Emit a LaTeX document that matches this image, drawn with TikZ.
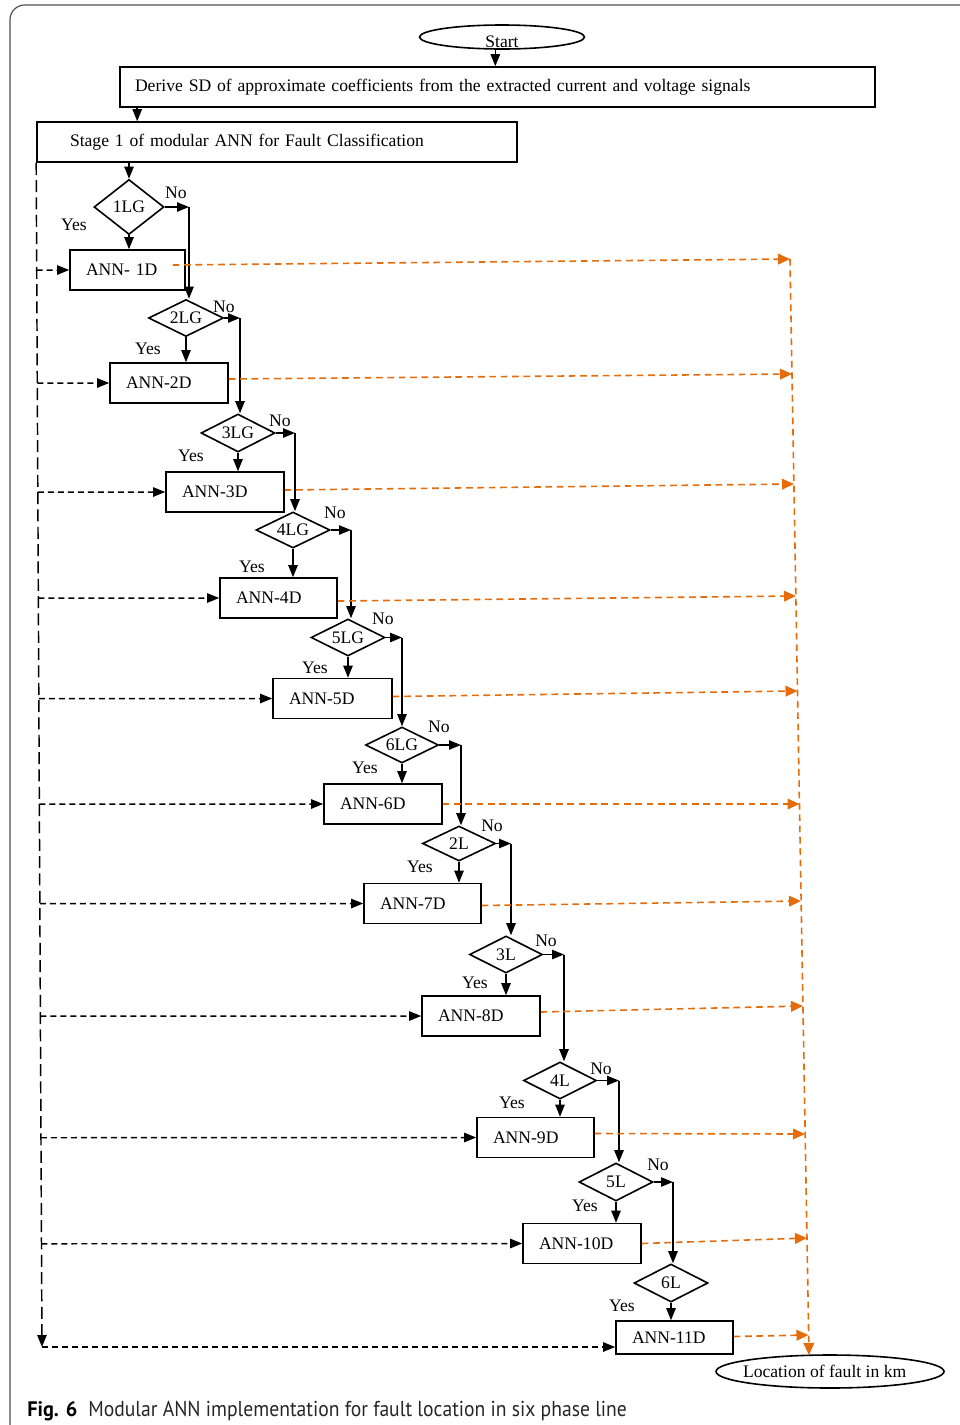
\documentclass[tikz,border=0pt]{standalone}
\usepackage{fontspec}
\usepackage{graphicx}
\setmainfont{Liberation Serif}
\newfontfamily\capfont{PT Sans}
\usetikzlibrary{arrows.meta,calc,shapes.geometric}
\definecolor{orng}{RGB}{228,108,10}
\definecolor{framegray}{RGB}{80,80,80}
\def\U{0.75pt}
\begin{document}
\begin{tikzpicture}[x=0.75pt,y=-0.75pt,
  every node/.style={font=\fontsize{13.2}{15}\selectfont},
  flow/.style={draw=black, line width=1.1pt, -{Triangle[length=9pt,width=7pt]}},
  bdash/.style={draw=black, line width=1.1pt, dash pattern=on 4.5pt off 3pt, -{Triangle[length=9pt,width=7pt]}},
  vdash/.style={draw=black, line width=1.1pt, dash pattern=on 9pt off 4pt, -{Triangle[length=9pt,width=7pt]}},
  odash/.style={draw=orng, line width=1.2pt, dash pattern=on 5pt off 3.5pt, -{Triangle[length=9pt,width=8pt]}},
  box/.style={draw, line width=1.2pt, rectangle, inner ysep=0pt, align=left, minimum height=40*\U},
  annbox/.style={box, inner xsep=16*\U, text width=#1*\U-32*\U},
  dia/.style={draw, line width=1.2pt, diamond, inner sep=0pt, shape aspect=2},
  oval/.style={draw, line width=1.2pt, ellipse, inner sep=0pt},
  lbl/.style={inner sep=0pt}
]
\useasboundingbox (0,0) rectangle (960,1425);
\draw[framegray, line width=0.9pt, rounded corners=11pt] (10,1430) -- (10,5) -- (965,5);

% top
\node[oval, minimum width=165*\U, minimum height=24*\U] (start) at (502,37) {\raisebox{-3pt}[9pt][0pt]{Start}};
\node[box, inner xsep=15*\U, text width=725*\U] (derive) at (497.5,87) {Derive SD of approximate coefficients from the extracted current and voltage signals};
\node[box, inner xsep=33*\U, text width=414*\U] (stage) at (277,142) {Stage 1 of modular ANN for Fault Classification};

% decisions and ANN boxes
\node[dia, minimum width=70*\U, minimum height=55*\U] (d1) at (129,207) {1LG};
\node[annbox=115] (a1) at (127.5,270) {ANN- 1D};
\node[dia, minimum width=75*\U, minimum height=37*\U] (d2) at (186,318) {2LG};
\node[annbox=118] (a2) at (169,383) {ANN-2D};
\node[dia, minimum width=74*\U, minimum height=38*\U] (d3) at (238,433) {3LG};
\node[annbox=118] (a3) at (225,492) {ANN-3D};
\node[dia, minimum width=74*\U, minimum height=36*\U] (d4) at (293,530) {4LG};
\node[annbox=117] (a4) at (278.5,598) {ANN-4D};
\node[dia, minimum width=74*\U, minimum height=37*\U] (d5) at (348,637.5) {5LG};
\node[annbox=119] (a5) at (332.5,698.5) {ANN-5D};
\node[dia, minimum width=73*\U, minimum height=36*\U] (d6) at (402,745) {6LG};
\node[annbox=118] (a6) at (383,804) {ANN-6D};
\node[dia, minimum width=73*\U, minimum height=35*\U] (d7) at (459,843.5) {2L};
\node[annbox=117] (a7) at (422.5,903.5) {ANN-7D};
\node[dia, minimum width=73*\U, minimum height=37*\U] (d8) at (506,954.5) {3L};
\node[annbox=118] (a8) at (481,1016) {ANN-8D};
\node[dia, minimum width=73*\U, minimum height=37*\U] (d9) at (560,1080.5) {4L};
\node[annbox=117] (a9) at (535.5,1137.5) {ANN-9D};
\node[dia, minimum width=74*\U, minimum height=38*\U] (d10) at (616,1182) {5L};
\node[annbox=118] (a10) at (582,1243.5) {ANN-10D};
\node[dia, minimum width=74*\U, minimum height=38*\U] (d11) at (671,1283) {6L};
\node[annbox=117, minimum height=33*\U] (a11) at (674.5,1337.5) {ANN-11D};
\node[oval, minimum width=228*\U, minimum height=33*\U, inner xsep=-4pt] (loc) at (830,1371.5) {\hspace*{-8pt}Location of fault in km};

% No / Yes labels
\node[lbl] (n1) at (176,193) {No};
\node[lbl] (n2) at (224,307) {No};
\node[lbl] (n3) at (280,421) {No};
\node[lbl] (n4) at (335,513) {No};
\node[lbl] (n5) at (383,619) {No};
\node[lbl] (n6) at (439,727) {No};
\node[lbl] (n7) at (492,826) {No};
\node[lbl] (n8) at (546,941) {No};
\node[lbl] (n9) at (601,1069) {No};
\node[lbl] (n10) at (658,1165) {No};
\node[lbl] (y1) at (74,225) {Yes};
\node[lbl] (y2) at (148,349) {Yes};
\node[lbl] (y3) at (191,456) {Yes};
\node[lbl] (y4) at (252,567) {Yes};
\node[lbl] (y5) at (315,668) {Yes};
\node[lbl] (y6) at (365,768) {Yes};
\node[lbl] (y7) at (420,867) {Yes};
\node[lbl] (y8) at (475,983) {Yes};
\node[lbl] (y9) at (512,1103) {Yes};
\node[lbl] (y10) at (585,1206) {Yes};
\node[lbl] (y11) at (622,1306) {Yes};

% corner points of the No branches
\coordinate (c1) at (189,207);
\coordinate (c2) at (240,318);
\coordinate (c3) at (295,433);
\coordinate (c4) at (351,530);
\coordinate (c5) at (402,637.5);
\coordinate (c6) at (461,745);
\coordinate (c7) at (511,843.5);
\coordinate (c8) at (564,954.5);
\coordinate (c9) at (619,1080.5);
\coordinate (c10) at (673,1182);
\coordinate (vbot) at (42,1347);
% ends of the orange output arrows (on the collecting line)
\coordinate (otop) at (790,259);
\coordinate (e2) at (792,374);
\coordinate (e3) at (794,484);
\coordinate (e4) at (796,596);
\coordinate (e5) at (797.5,691);
\coordinate (e6) at (799.5,804);
\coordinate (e7) at (801,901);
\coordinate (e8) at (803,1006);
\coordinate (e9) at (805,1134);
\coordinate (e10) at (807,1238);
\coordinate (e11) at (808.5,1335);
\coordinate (obot) at (809,1355);

% main flow
\draw[flow] ([xshift=-5pt]start.south) -- ([xshift=-5pt]start.south |- derive.north);
\draw[flow] ([xshift=13.5pt]derive.south west) -- ([xshift=13.5pt]derive.south west |- stage.north);
\draw[flow] (stage.south -| d1.north) -- (d1.north);

\foreach \i in {1,...,11} {
  \draw[flow] (d\i.south) -- (d\i.south |- a\i.north);
}
\foreach \i/\j in {1/2,2/3,3/4,4/5,5/6,6/7,7/8,8/9,9/10,10/11} {
  \draw[flow] (d\i.east) -- (c\i);
  \draw[flow] (c\i) -- (c\i |- d\j.north);
}

% black dashed feed lines
\draw[vdash] (stage.south west) -- (vbot);
\foreach \i in {1,...,10} {
  \draw[bdash] (intersection of stage.south west--vbot and a\i.west--a\i.east) -- (a\i.west);
}
\draw[bdash] (vbot) -- (vbot -| a11.west);

% orange dashed outputs
\draw[odash] (otop) -- (obot);
\draw[odash] ([xshift=-9.75pt,yshift=3.75pt]a1.east) -- (otop);
\draw[odash] ([yshift=3pt]a2.east) -- (e2);
\draw[odash] ([yshift=1.5pt]a3.east) -- (e3);
\draw[odash] ([yshift=-2.25pt]a4.east) -- (e4);
\draw[odash] ([yshift=1.5pt]a5.east) -- (e5);
\draw[odash] (a6.east) -- (e6);
\draw[odash] ([yshift=-1.5pt]a7.east) -- (e7);
\draw[odash] ([yshift=3pt]a8.east) -- (e8);
\draw[odash] ([yshift=3pt]a9.east) -- (e9);
\draw[odash] (a10.east) -- (e10);
\draw[odash] ([yshift=0.75pt]a11.east) -- (e11);

% caption
\node[anchor=base west, inner sep=0pt] (fig) at (27,1416) {\resizebox{37.5pt}{11.25pt}{\capfont\bfseries Fig. 6}};
\node[anchor=base west, inner sep=0pt, text=black!85] (cap) at (88,1416) {\resizebox{404pt}{11.5pt}{\capfont Modular ANN implementation for fault location in six phase line}};
\end{tikzpicture}
\end{document}
